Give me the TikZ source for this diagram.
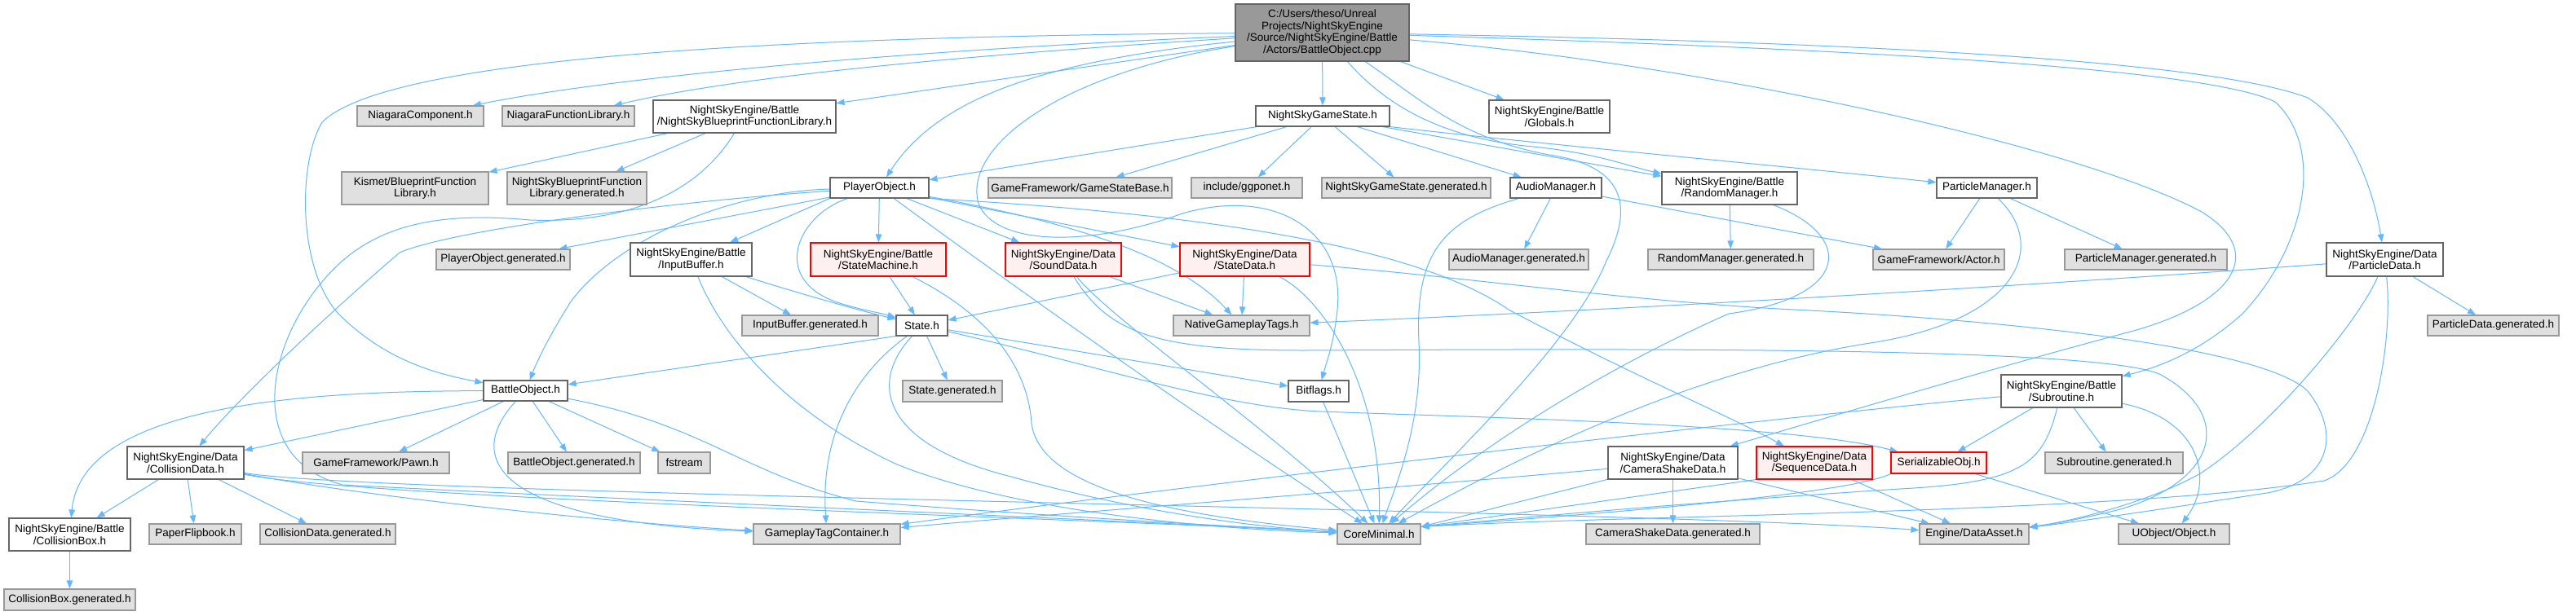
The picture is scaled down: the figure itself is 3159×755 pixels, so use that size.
\documentclass[tikz,border=0pt]{standalone}
\usepackage{fontspec}
\setmainfont{Liberation Sans}
\usetikzlibrary{arrows.meta,calc,backgrounds}
\definecolor{edgec}{HTML}{63B8FF}
\definecolor{grayfill}{HTML}{E0E0E0}
\definecolor{graydraw}{HTML}{999999}
\definecolor{darkdraw}{HTML}{666666}
\definecolor{redfill}{HTML}{FFF0F0}
\definecolor{rootfill}{HTML}{999999}
\newcommand\mknode[7]{\node[#2, minimum width={(#5-#3)*1pt}, minimum height={(#6-#4)*1pt}] (#1) at ({(#3+#5)/2},{(#4+#6)/2}) {#7};}
\begin{document}
\begin{tikzpicture}[x=1pt,y=-1pt,
  every node/.style={font=\fontsize{13.5}{14.5}\selectfont, align=center, inner sep=0pt, line width=1.1pt, text=black},
  gnode/.style={draw=graydraw, fill=grayfill},
  wnode/.style={draw=darkdraw, fill=white},
  rnode/.style={draw=red, fill=redfill},
  rootnode/.style={draw=darkdraw, fill=rootfill},
  dep/.style={draw=edgec, line width=1pt, -{Triangle[length=10pt,width=7.5pt]}}]
\useasboundingbox (0,0) rectangle (3159,755);
% nodes
\mknode{root}{rootnode}{1515}{5}{1728}{75}{C:/Users/theso/Unreal\\Projects/NightSkyEngine\\/Source/NightSkyEngine/Battle\\/Actors/BattleObject.cpp}
\mknode{nc}{gnode}{438}{130}{593}{155}{NiagaraComponent.h}
\mknode{nfl}{gnode}{616}{130}{778}{155}{NiagaraFunctionLibrary.h}
\mknode{nsbfl}{wnode}{801}{123}{1025}{163}{NightSkyEngine/Battle\\/NightSkyBlueprintFunctionLibrary.h}
\mknode{gs}{wnode}{1540}{130}{1704}{155}{NightSkyGameState.h}
\mknode{glob}{wnode}{1826}{123}{1974}{163}{NightSkyEngine/Battle\\/Globals.h}
\mknode{kbfl}{gnode}{419}{211}{599}{251}{Kismet/BlueprintFunction\\Library.h}
\mknode{nsbflg}{gnode}{622}{211}{793}{251}{NightSkyBlueprintFunction\\Library.generated.h}
\mknode{po}{wnode}{1018}{218}{1139}{243}{PlayerObject.h}
\mknode{gsb}{gnode}{1212}{218}{1437}{243}{GameFramework/GameStateBase.h}
\mknode{ggpo}{gnode}{1461}{218}{1597}{243}{include/ggponet.h}
\mknode{gsg}{gnode}{1621}{218}{1828}{243}{NightSkyGameState.generated.h}
\mknode{am}{wnode}{1852}{218}{1964}{243}{AudioManager.h}
\mknode{rm}{wnode}{2038}{211}{2204}{251}{NightSkyEngine/Battle\\/RandomManager.h}
\mknode{pm}{wnode}{2375}{218}{2498}{243}{ParticleManager.h}
\mknode{pog}{gnode}{535}{306}{699}{331}{PlayerObject.generated.h}
\mknode{ib}{wnode}{773}{298}{922}{339}{NightSkyEngine/Battle\\/InputBuffer.h}
\mknode{sm}{rnode}{994}{298}{1160}{339}{NightSkyEngine/Battle\\/StateMachine.h}
\mknode{sd}{rnode}{1233}{298}{1375}{339}{NightSkyEngine/Data\\/SoundData.h}
\mknode{std}{rnode}{1447}{298}{1606}{339}{NightSkyEngine/Data\\/StateData.h}
\mknode{amg}{gnode}{1777}{306}{1948}{331}{AudioManager.generated.h}
\mknode{rmg}{gnode}{2021}{306}{2224}{331}{RandomManager.generated.h}
\mknode{actor}{gnode}{2297}{306}{2458}{331}{GameFramework/Actor.h}
\mknode{pmg}{gnode}{2532}{306}{2731}{331}{ParticleManager.generated.h}
\mknode{pd}{wnode}{2853}{298}{2996}{339}{NightSkyEngine/Data\\/ParticleData.h}
\mknode{ibg}{gnode}{910}{387}{1077}{412}{InputBuffer.generated.h}
\mknode{state}{wnode}{1099}{387}{1162}{412}{State.h}
\mknode{ngt}{gnode}{1439}{387}{1606}{412}{NativeGameplayTags.h}
\mknode{pdg}{gnode}{2977}{387}{3138}{412}{ParticleData.generated.h}
\mknode{bo}{wnode}{593}{467}{696}{492}{BattleObject.h}
\mknode{stg}{gnode}{1107}{467}{1229}{493}{State.generated.h}
\mknode{bf}{wnode}{1580}{467}{1654}{493}{Bitflags.h}
\mknode{sub}{wnode}{2454}{460}{2602}{500}{NightSkyEngine/Battle\\/Subroutine.h}
\mknode{cd}{wnode}{156}{548}{299}{588}{NightSkyEngine/Data\\/CollisionData.h}
\mknode{pawn}{gnode}{371}{555}{551}{581}{GameFramework/Pawn.h}
\mknode{bog}{gnode}{623}{555}{785}{581}{BattleObject.generated.h}
\mknode{fs}{gnode}{807}{555}{871}{581}{fstream}
\mknode{csd}{wnode}{1972}{548}{2131}{588}{NightSkyEngine/Data\\/CameraShakeData.h}
\mknode{seq}{rnode}{2154}{548}{2296}{588}{NightSkyEngine/Data\\/SequenceData.h}
\mknode{ser}{rnode}{2319}{555}{2436}{581}{SerializableObj.h}
\mknode{subg}{gnode}{2508}{555}{2677}{581}{Subroutine.generated.h}
\mknode{cb}{wnode}{11}{636}{160}{676}{NightSkyEngine/Battle\\/CollisionBox.h}
\mknode{pf}{gnode}{183}{643}{296}{668}{PaperFlipbook.h}
\mknode{cdg}{gnode}{319}{643}{485}{668}{CollisionData.generated.h}
\mknode{gtc}{gnode}{924}{643}{1104}{668}{GameplayTagContainer.h}
\mknode{cm}{gnode}{1640}{643}{1742}{668}{CoreMinimal.h}
\mknode{csdg}{gnode}{1945}{643}{2158}{668}{CameraShakeData.generated.h}
\mknode{da}{gnode}{2354}{643}{2488}{668}{Engine/DataAsset.h}
\mknode{uo}{gnode}{2598}{643}{2734}{668}{UObject/Object.h}
\mknode{cbg}{gnode}{5}{723}{166}{749}{CollisionBox.generated.h}
\coordinate (cmR) at ($(cm.north east)+(0,4)$);
% edges
\begin{scope}[on background layer]
\fill[white] (0,0) rectangle (3159,755);
% root
\draw[dep] (root) .. controls (900,45) and (470,75) .. (395,150) .. controls (365,200) and (365,330) .. (415,385) .. controls (470,440) and (530,458) .. (bo);
\draw[dep] (root) .. controls (1100,62) and (750,95) .. (nc);
\draw[dep] (root) .. controls (1150,70) and (900,95) .. (nfl);
\draw[dep] (root) -- (nsbfl);
\draw[dep] (root) .. controls (1280,75) and (1150,120) .. (po);
\draw[dep] (root) -- (gs);
\draw[dep] (root) -- (glob);
\draw[dep] (root) .. controls (1700,130) and (1770,170) .. (1880,180) .. controls (1960,188) and (2000,205) .. (rm);
\draw[dep] (root) .. controls (1740,120) and (1790,170) .. (1900,190) .. controls (2000,205) and (2000,260) .. (1970,320) .. controls (1930,420) and (1780,560) .. (cm);
\draw[dep] (root) .. controls (1300,90) and (1180,180) .. (1200,250) .. controls (1220,300) and (1330,305) .. (1450,262) .. controls (1560,230) and (1650,280) .. (1640,380) .. controls (1636,420) and (1628,440) .. (bf);
\draw[dep] (root) .. controls (2200,50) and (2700,70) .. (2830,120) .. controls (2880,150) and (2910,230) .. (pd);
\draw[dep] (root) .. controls (2200,58) and (2700,80) .. (2790,125) .. controls (2850,180) and (2830,300) .. (2750,385) .. controls (2700,430) and (2650,450) .. (sub);
\draw[dep] (root) .. controls (2100,80) and (2550,180) .. (2700,260) .. controls (2780,310) and (2740,370) .. (2620,405) .. controls (2450,450) and (2250,510) .. (csd);
% NightSkyGameState
\draw[dep] (gs) -- (po);
\draw[dep] (gs) -- (gsb);
\draw[dep] (gs) -- (ggpo);
\draw[dep] (gs) -- (gsg);
\draw[dep] (gs) -- (am);
\draw[dep] (gs) -- (rm);
\draw[dep] (gs.south east) .. controls (1900,178) and (2200,205) .. (pm);
% blueprint library
\draw[dep] (nsbfl) -- (kbfl);
\draw[dep] (nsbfl) -- (nsbflg);
\draw[dep] (nsbfl) .. controls (860,230) and (780,275) .. (650,270) .. controls (560,262) and (480,268) .. (420,320) .. controls (330,400) and (290,560) .. (420,595) .. controls (700,610) and (1400,640) .. (cm);
% PlayerObject
\draw[dep] (po) .. controls (900,235) and (760,290) .. (700,370) .. controls (675,410) and (660,440) .. (bo);
\draw[dep] (po) .. controls (850,245) and (560,280) .. (490,310) .. controls (420,370) and (300,480) .. (cd);
\draw[dep] (po) -- (pog);
\draw[dep] (po.south west) -- (ib);
\draw[dep] (po) -- (sm);
\draw[dep] (po) .. controls (975,265) and (940,350) .. (1040,375) .. controls (1060,381) and (1080,384) .. (state);
\draw[dep] (po) .. controls (1200,320) and (1450,500) .. (cm);
\draw[dep] (po) -- (sd);
\draw[dep] (po) -- (std);
\draw[dep] (po) .. controls (1300,270) and (1440,310) .. (ngt);
\draw[dep] (po.south east) .. controls (1400,258) and (1720,290) .. (1850,380) .. controls (2000,460) and (2120,510) .. (seq);
% State
\draw[dep] (state.south west) -- (bo);
\draw[dep] (state) -- (stg);
\draw[dep] (state) -- (bf);
\draw[dep] (state) .. controls (1350,450) and (1500,500) .. (1620,505) .. controls (1800,512) and (2200,520) .. (ser);
\draw[dep] (state) .. controls (1060,450) and (1005,520) .. (gtc);
\draw[dep] (state) .. controls (1065,470) and (1080,545) .. (1240,585) .. controls (1400,630) and (1550,648) .. (cm);
% InputBuffer
\draw[dep] (ib) -- (ibg);
\draw[dep] (ib) .. controls (980,360) and (1050,380) .. (state);
\draw[dep] (ib) .. controls (880,400) and (950,500) .. (1100,570) .. controls (1250,630) and (1500,650) .. (cm);
% StateMachine
\draw[dep] (sm) -- (state);
\draw[dep] (sm) .. controls (1200,380) and (1260,440) .. (1265,520) .. controls (1275,590) and (1400,630) .. (cm);
% SoundData
\draw[dep] (sd) -- (ngt);
\draw[dep] (sd) .. controls (1360,390) and (1550,520) .. (cm);
\draw[dep] (sd) .. controls (1360,410) and (1420,430) .. (1600,430) .. controls (2000,428) and (2580,425) .. (2650,460) .. controls (2740,510) and (2720,590) .. (2600,625) .. controls (2560,635) and (2520,643) .. (da);
% StateData
\draw[dep] (std) -- (ngt);
\draw[dep] (std) -- (state);
\draw[dep] (std) .. controls (1620,365) and (1695,470) .. (cm);
\draw[dep] (std) .. controls (1800,340) and (2000,370) .. (2200,380) .. controls (2500,395) and (2780,430) .. (2830,480) .. controls (2870,530) and (2860,590) .. (2780,605) .. controls (2650,625) and (2550,640) .. (da);
% ParticleData
\draw[dep] (pd) .. controls (2500,350) and (2000,380) .. (ngt);
\draw[dep] (pd) -- (pdg);
\draw[dep] (pd) .. controls (2895,390) and (2790,520) .. (2700,580) .. controls (2640,615) and (2540,640) .. (da);
\draw[dep] (pd) .. controls (2935,420) and (2910,570) .. (2850,590) .. controls (2600,630) and (2000,632) .. (cmR);
% CameraShakeData
\draw[dep] (csd) -- (csdg);
\draw[dep] (csd) -- (cmR);
\draw[dep] (csd) .. controls (1700,600) and (1300,630) .. (gtc);
\draw[dep] (csd) -- (da);
% SequenceData
\draw[dep] (seq) -- (da);
\draw[dep] (seq.south west) -- (cmR);
% SerializableObj
\draw[dep] (ser.south west) .. controls (2270,605) and (2000,628) .. (cmR);
\draw[dep] (ser) -- (uo);
% Subroutine
\draw[dep] (sub) -- (ser);
\draw[dep] (sub) -- (subg);
\draw[dep] (sub) .. controls (2700,515) and (2715,590) .. (uo);
\draw[dep] (sub) .. controls (2505,570) and (2480,592) .. (2330,600) .. controls (2100,615) and (1900,632) .. (cmR);
\draw[dep] (sub) .. controls (2200,510) and (1500,590) .. (gtc);
% AudioManager
\draw[dep] (am) -- (amg);
\draw[dep] (am) -- (actor);
\draw[dep] (am) .. controls (1770,270) and (1735,310) .. (1740,420) .. controls (1745,520) and (1710,600) .. (cm);
% RandomManager
\draw[dep] (rm) -- (rmg);
\draw[dep] (rm) .. controls (2275,290) and (2270,365) .. (2120,385) .. controls (1950,460) and (1800,560) .. (cm);
% ParticleManager
\draw[dep] (pm) -- (actor);
\draw[dep] (pm) -- (pmg);
\draw[dep] (pm) .. controls (2510,300) and (2480,390) .. (2300,420) .. controls (2100,450) and (1900,540) .. (cm);
% BattleObject
\draw[dep] (bo) -- (cd);
\draw[dep] (bo) .. controls (380,480) and (100,495) .. (cb);
\draw[dep] (bo) -- (pawn);
\draw[dep] (bo) -- (bog);
\draw[dep] (bo) -- (fs);
\draw[dep] (bo) .. controls (570,560) and (600,640) .. (gtc);
\draw[dep] (bo) .. controls (860,520) and (910,580) .. (1050,615) .. controls (1300,635) and (1550,648) .. (cm);
% CollisionData
\draw[dep] (cd) -- (cb);
\draw[dep] (cd) -- (pf);
\draw[dep] (cd) -- (cdg);
\draw[dep] (cd) .. controls (480,615) and (800,645) .. (gtc);
\draw[dep] (cd) .. controls (450,612) and (1300,635) .. (cm);
\draw[dep] (cd) .. controls (460,608) and (2000,625) .. (da);
% others
\draw[dep] (cb) -- (cbg);
\draw[dep] (bf) -- (cm);
\end{scope}
\end{tikzpicture}
\end{document}
